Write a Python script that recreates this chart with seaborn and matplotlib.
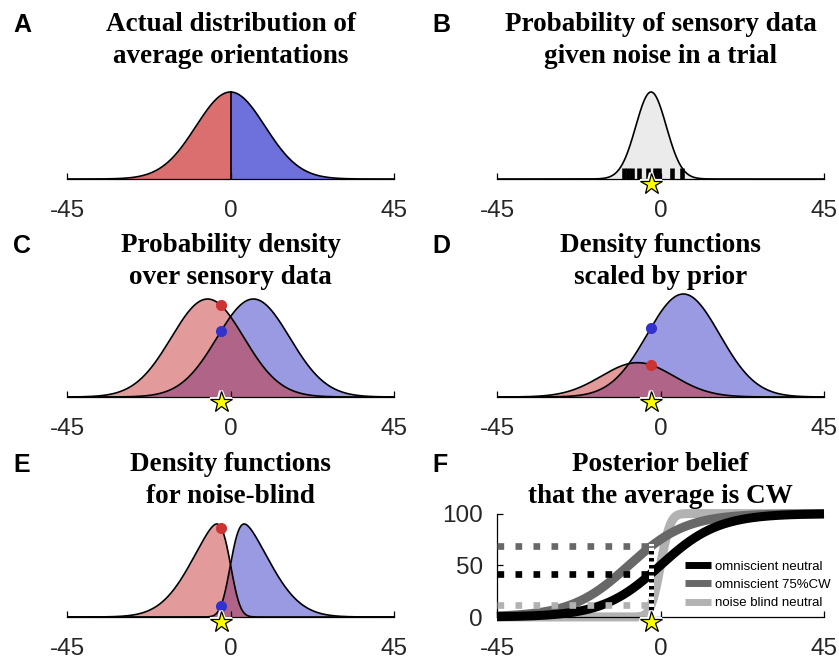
import math
import numpy as np
import seaborn as sns
import matplotlib
matplotlib.use("Agg")
import matplotlib.pyplot as plt
import matplotlib.patheffects as pe
from matplotlib.lines import Line2D
from matplotlib.transforms import ScaledTranslation

# ---- text ----
panel_letters = ["A", "B", "C", "D", "E", "F"]
panel_titles = [
    "Actual distribution of\naverage orientations",
    "Probability of sensory data\ngiven noise in a trial",
    "Probability density\nover sensory data",
    "Density functions\nscaled by prior",
    "Density functions\nfor noise-blind",
    "Posterior belief\nthat the average is CW",
]
x_ticks = [-45, 0, 45]
x_ticklabels = ["-45", "0", "45"]
f_yticks = [0, 50, 100]
f_yticklabels = ["0", "50", "100"]
legend_labels = ["omniscient neutral", "omniscient 75%CW", "noise blind neutral"]

# ---- values (degrees) ----
stim = -2.6                      # the star: average of this trial
prior_sd = 9.5                   # A: spread of average orientations
noise_sd = 4.2                   # B: sensory noise around the trial average
trial_samples = [-10.1, -8.9, -7.8, -5.9, -3.4, -1.5, -0.3, 3.3, 5.8]
cat_means = [-6.3, 6.3]          # C: CCW (red) and CW (blue) densities
cat_sd = 10.0
prior_cw = 0.75                  # D: prior on CW
blind_prior_sd = 9.3             # E: noise-blind densities (skewed)
blind_noise_sd = 2.1

# ---- colours ----
red_dark, blue_dark = "#DB6E6E", "#6E70DB"
red_light, blue_light, overlap = "#E39A9A", "#9A9AE3", "#B06488"
dot_red, dot_blue = "#CC3333", "#3333CC"
gray_fill = "#EBEBEB"
ink = "#262626"
f_colors = ["black", "#686868", "#B2B2B2"]

plt.rcParams["font.family"] = ["Liberation Sans", "DejaVu Sans"]
plt.rcParams["axes.unicode_minus"] = False

xs = np.linspace(-45, 45, 901)
Phi = np.vectorize(lambda z: 0.5 * (1 + math.erf(z / math.sqrt(2))))


def gauss(x, m, s):
    return np.exp(-0.5 * ((x - m) / s) ** 2)


def skew(x, sign):
    om = math.hypot(blind_prior_sd, blind_noise_sd)
    al = blind_prior_sd / blind_noise_sd
    return np.exp(-0.5 * (x / om) ** 2) * Phi(sign * al * x / om)


# densities
prior = gauss(xs, 0, prior_sd)
trial = gauss(xs, stim, noise_sd)
c_red, c_blue = gauss(xs, cat_means[0], cat_sd), gauss(xs, cat_means[1], cat_sd)
d_red, d_blue = (1 - prior_cw) * c_red, prior_cw * c_blue
e_red, e_blue = skew(xs, -1), skew(xs, 1)
e_norm = max(e_red.max(), e_blue.max())
e_red, e_blue = e_red / e_norm, e_blue / e_norm

post = [100 * c_blue / (c_red + c_blue),
        100 * d_blue / (d_red + d_blue),
        100 * e_blue / (e_red + e_blue)]

# ---- layout (pixels) ----
W, H = 839, 660
col_left = [67, 497]
col_w = 327
row_base = [179, 397, 617]
row_h = [100, 107, 103.4]
title_top = [12, 233, 452]

fig = plt.figure(figsize=(W / 100, H / 100), dpi=100)


def make_axes(col, row, ytop):
    ax = fig.add_axes([col_left[col] / W, 1 - row_base[row] / H, col_w / W, row_h[row] / H])
    ax.set_xlim(-45, 45)
    ax.set_ylim(0, ytop)
    for s in ["top", "right", "left"]:
        ax.spines[s].set_visible(False)
    ax.spines["bottom"].set_color("black")
    ax.spines["bottom"].set_linewidth(0.9)
    ax.set_xticks(x_ticks)
    ax.set_xticklabels(x_ticklabels)
    ax.set_yticks([])
    ax.tick_params(axis="x", direction="in", length=4, width=0.9, color="black",
                   labelsize=17.5, labelcolor=ink, pad=15)
    i = row * 2 + col
    cx = (col_left[col] + col_w / 2) / W
    fig.text(cx, 1 - title_top[row] / H, panel_titles[i], ha="center", va="top",
             fontsize=19.5, fontweight="bold", family=["Liberation Serif"], linespacing=1.36)
    fig.text([13, 432][col] / W, 1 - (title_top[row] + 1) / H, panel_letters[i],
             ha="left", va="top", fontsize=18, fontweight="bold")
    return ax


def outline(ax, y):
    sns.lineplot(x=xs, y=y, ax=ax, color="black", lw=1.2, estimator=None, sort=False, zorder=4)


def star(ax):
    off = ScaledTranslation(0, -0.05, fig.dpi_scale_trans)
    ax.plot([stim], [0], marker="*", ms=16, mfc="#FFFF00", mec="black", mew=0.9,
            clip_on=False, zorder=10, transform=ax.transData + off,
            path_effects=[pe.withStroke(linewidth=3, foreground="white")])


def dots(ax, red, blue):
    ax.plot([stim], [np.interp(stim, xs, red)], "o", ms=7, color=dot_red, zorder=6, clip_on=False)
    ax.plot([stim], [np.interp(stim, xs, blue)], "o", ms=7, color=dot_blue, zorder=6, clip_on=False)


def two_densities(ax, red, blue):
    ax.fill_between(xs, 0, red, color=red_light, lw=0)
    ax.fill_between(xs, 0, blue, color=blue_light, lw=0)
    ax.fill_between(xs, 0, np.minimum(red, blue), color=overlap, lw=0)
    outline(ax, red)
    outline(ax, blue)


# A
ax = make_axes(0, 0, 100 / 87)
ax.fill_between(xs, 0, prior, where=xs <= 0, color=red_dark, lw=0)
ax.fill_between(xs, 0, prior, where=xs >= 0, color=blue_dark, lw=0)
outline(ax, prior)
ax.plot([0, 0], [0, 1], color="black", lw=1.2, zorder=4)

# B
ax = make_axes(1, 0, 100 / 87)
ax.fill_between(xs, 0, trial, color=gray_fill, lw=0)
outline(ax, trial)
sns.rugplot(x=trial_samples, ax=ax, height=0.11, linewidth=3.3, color="black",
            expand_margins=False, zorder=5)
star(ax)

# C
ax = make_axes(0, 1, 107 / 98)
two_densities(ax, c_red, c_blue)
dots(ax, c_red, c_blue)
star(ax)

# D
ax = make_axes(1, 1, prior_cw * 107 / 103)
two_densities(ax, d_red, d_blue)
dots(ax, d_red, d_blue)
star(ax)

# E
ax = make_axes(0, 2, 103.4 / 93)
two_densities(ax, e_red, e_blue)
dots(ax, e_red, e_blue)
star(ax)

# F
ax = make_axes(1, 2, 100)
ax.spines["left"].set_visible(True)
ax.spines["left"].set_linewidth(0.9)
ax.set_yticks(f_yticks)
ax.set_yticklabels(f_yticklabels)
ax.tick_params(axis="y", direction="in", length=4, width=0.9, labelsize=17.5,
               labelcolor=ink, pad=10)
for k, z in [(2, 2.0), (1, 2.2), (0, 2.5)]:
    sns.lineplot(x=xs, y=post[k], ax=ax, color=f_colors[k], lw=6.5, estimator=None,
                 sort=False, zorder=z, clip_on=False, solid_capstyle="butt")
levels = [float(np.interp(stim, xs, p)) for p in post]
for k in range(3):
    ax.plot([-45, stim], [levels[k], levels[k]], color=f_colors[k], lw=4.8,
            ls=(0, (1, 1.7)), zorder=5, clip_on=False)
ax.plot([stim, stim], [0, max(levels)], color="white", lw=3.6, zorder=6)
ax.plot([stim, stim], [0, max(levels)], color="black", lw=3.6, ls=(0, (0.7, 0.7)), zorder=7)
star(ax)
handles = [Line2D([], [], color=c, lw=5, solid_capstyle="butt") for c in f_colors]
ax.legend(handles, legend_labels, loc="center left", bbox_to_anchor=(0.575, 0.31),
          frameon=False, fontsize=9.5, handlelength=2.0, handletextpad=0.3,
          labelspacing=0.45, borderpad=0, borderaxespad=0)

fig.savefig("out.png", dpi=100)
